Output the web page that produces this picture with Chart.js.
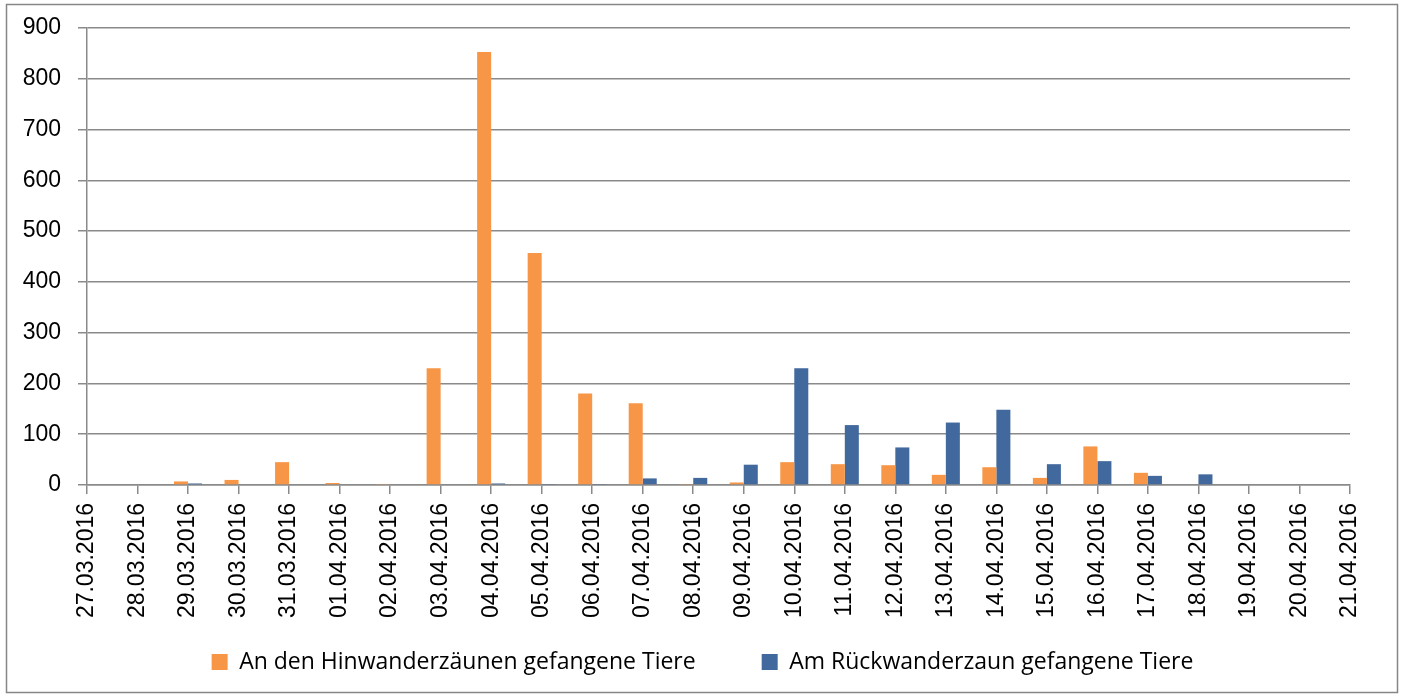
<!DOCTYPE html>
<html>
<head>
<meta charset="utf-8">
<script src="https://cdn.jsdelivr.net/npm/chart.js@4/dist/chart.umd.min.js"></script>
<style>
  html, body { margin: 0; padding: 0; background: #ffffff; }
  canvas { display: block; }
</style>
</head>
<body>
<canvas id="c" width="1403" height="697"></canvas>
<script>
const dates = ["27.03.2016","28.03.2016","29.03.2016","30.03.2016","31.03.2016","01.04.2016","02.04.2016","03.04.2016","04.04.2016","05.04.2016","06.04.2016","07.04.2016","08.04.2016","09.04.2016","10.04.2016","11.04.2016","12.04.2016","13.04.2016","14.04.2016","15.04.2016","16.04.2016","17.04.2016","18.04.2016","19.04.2016","20.04.2016","21.04.2016"];
const hinwanderung = [0,0,7,10,45,4,2,230,853,457,180,161,2,5,45,41,39,20,35,14,76,24,0,0,0,0];
const rueckwanderung = [0,0,3,0,0,0,0,0,3,2,2,13,14,40,230,118,74,123,148,41,47,18,21,0,0,1];
const seriesNames = ["An den Hinwanderzäunen gefangene Tiere", "Am Rückwanderzaun gefangene Tiere"];
const yTicks = [0,100,200,300,400,500,600,700,800,900];

const frame = {
  id: 'frame',
  beforeDraw(chart) {
    const ctx = chart.ctx;
    ctx.save();
    ctx.fillStyle = '#ffffff';
    ctx.fillRect(0, 0, chart.width, chart.height);
    ctx.strokeStyle = '#868686';
    ctx.lineWidth = 1.5;
    ctx.strokeRect(6.5, 4.5, 1391, 688);
    ctx.restore();
  }
};

// move the legend block so its row sits where the reference places it
const legendPlace = {
  id: 'legendPlace',
  afterLayout(chart) {
    const lg = chart.legend;
    if (lg) {
      lg.top = 584.5;
      lg.bottom = chart.height;
      lg.height = lg.bottom - lg.top;
    }
  }
};

const gridColor = '#8a8a8a';
new Chart(document.getElementById('c'), {
  type: 'bar',
  data: {
    labels: dates,
    datasets: [
      { label: seriesNames[0], data: hinwanderung, backgroundColor: '#F79646', borderWidth: 0 },
      { label: seriesNames[1], data: rueckwanderung, backgroundColor: '#41699D', borderWidth: 0 }
    ]
  },
  options: {
    responsive: false,
    devicePixelRatio: 1,
    animation: false,
    layout: { padding: { left: 2, right: 0, top: 20, bottom: 0 } },
    datasets: { bar: { categoryPercentage: 0.555, barPercentage: 1.0 } },
    plugins: {
      tooltip: { enabled: false },
      legend: {
        position: 'bottom',
        maxHeight: 72,
        labels: {
          boxWidth: 16, boxHeight: 16, padding: 66,
          color: '#000000',
          font: { family: '"Open Sans", sans-serif', size: 23 }
        }
      }
    },
    scales: {
      x: {
        offset: false,
        grid: { display: true, drawOnChartArea: false, drawTicks: true, tickLength: 9, color: gridColor, lineWidth: 1.5, offset: false },
        border: { display: true, color: gridColor, width: 1.5 },
        ticks: {
          autoSkip: false, minRotation: 90, maxRotation: 90, padding: 9,
          color: '#000000',
          font: { family: '"Liberation Sans", Arial, sans-serif', size: 23 }
        },
        afterFit(s) { s.height = 140; }
      },
      y: {
        min: 0, max: 900,
        afterBuildTicks(s) { s.ticks = yTicks.map(v => ({ value: v })); },
        grid: { color: gridColor, lineWidth: 1.5, tickLength: 9, drawTicks: true },
        border: { display: true, color: gridColor, width: 1.5 },
        ticks: {
          padding: 17, color: '#000000',
          font: { family: '"Liberation Sans", Arial, sans-serif', size: 23, lineHeight: 0.96 }
        },
        afterFit(s) { s.width = 85; }
      },
      y2: {
        position: 'right',
        display: true,
        grid: { display: false, drawTicks: false },
        border: { display: false },
        ticks: { display: false },
        afterFit(s) { s.width = 53; }
      }
    }
  },
  plugins: [frame, legendPlace]
});
</script>
</body>
</html>
